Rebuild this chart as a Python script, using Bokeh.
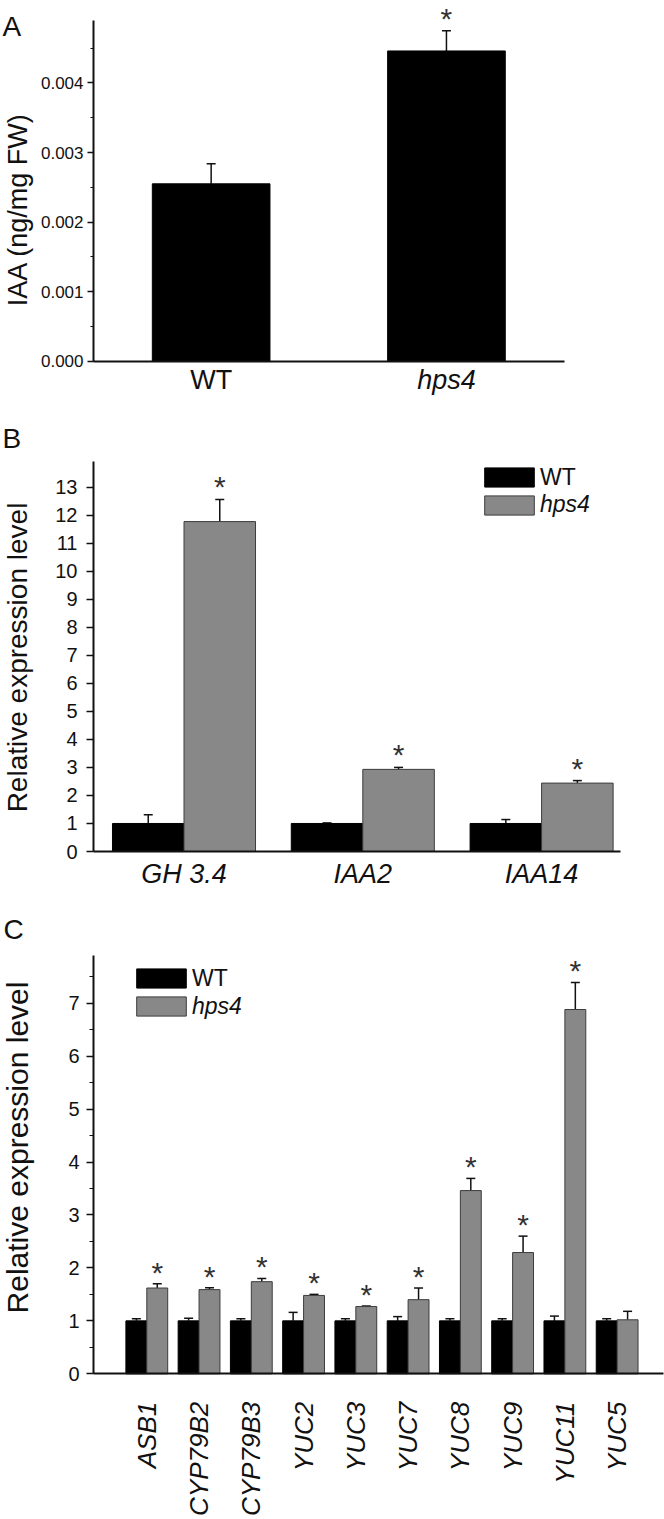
import math
from bokeh.plotting import figure
from bokeh.layouts import column
from bokeh.models import (ColumnDataSource, Whisker, TeeHead, LabelSet, Label, Legend,
                          LegendItem, SingleIntervalTicker, FixedTicker, NumeralTickFormatter,
                          Range1d)
from bokeh.core.properties import field, value
from bokeh.embed import file_html
from bokeh.resources import INLINE

# ---------------- data ----------------
# Panel A: IAA content
genotypes_A = ["WT", "hps4"]
styles_A = ["normal", "italic"]
iaa_A = [0.00255, 0.00446]
iaa_err_A = [0.00029, 0.00029]
sig_A = ["", "*"]

# Panel B: auxin responsive genes
genes_B = ["GH 3.4", "IAA2", "IAA14"]
wt_B = [1.0, 1.0, 1.0]
wt_err_B = [0.31, 0.02, 0.14]
hps4_B = [11.77, 2.93, 2.44]
hps4_err_B = [0.79, 0.07, 0.09]
sig_B = ["*", "*", "*"]

# Panel C: auxin biosynthesis genes
genes_C = ["ASB1", "CYP79B2", "CYP79B3", "YUC2", "YUC3", "YUC7", "YUC8", "YUC9", "YUC11", "YUC5"]
wt_C = [1.0, 1.0, 1.0, 1.0, 1.0, 1.0, 1.0, 1.0, 1.0, 1.0]
wt_err_C = [0.04, 0.05, 0.04, 0.16, 0.04, 0.08, 0.04, 0.04, 0.09, 0.04]
hps4_C = [1.62, 1.59, 1.74, 1.48, 1.27, 1.40, 3.46, 2.29, 6.88, 1.02]
hps4_err_C = [0.08, 0.035, 0.06, 0.02, 0.01, 0.22, 0.23, 0.31, 0.51, 0.16]
sig_C = ["*", "*", "*", "*", "*", "*", "*", "*", "*", ""]

ylabel_A = "IAA (ng/mg FW)"
ylabel_BC = "Relative expression level"

# ---------------- style / layout ----------------
FONT = "Liberation Sans"
BLACK = "#000000"
GRAY = "#888888"
EDGE = "#3c3c3c"
INK = "#111111"
W = 664
AXIS_PX = 93          # pixel position of every y axis line


def x_range_from(px0, ppu):
    """x range whose value 0 sits at pixel px0, ppu pixels per unit."""
    return Range1d(-px0 / ppu, (W - px0) / ppu)


def y_range_from(py0, ppu, height):
    """y range whose value 0 sits at pixel py0 (from top), ppu pixels per unit."""
    return Range1d(-(height - py0) / ppu, py0 / ppu)


def make_fig(height, xr, yr):
    p = figure(width=W, height=height, x_range=xr, y_range=yr,
               output_backend="svg", toolbar_location=None,
               min_border_left=0, min_border_right=0, min_border_top=0, min_border_bottom=0)
    p.frame_align = False
    p.xgrid.visible = False
    p.ygrid.visible = False
    p.outline_line_color = None
    p.background_fill_color = "white"
    p.border_fill_color = "white"
    return p


def style_axes(p, x_loc, xbounds, ybounds, tick_font, tick_out, minor_out, tick_standoff):
    xa = p.xaxis[0]
    ya = p.yaxis[0]
    for ax in (xa, ya):
        ax.axis_line_width = 2
        ax.axis_line_color = INK
        ax.major_tick_line_width = 1.5
        ax.minor_tick_line_width = 1.2
        ax.major_tick_line_color = INK
        ax.minor_tick_line_color = INK
        ax.major_tick_in = 0
        ax.minor_tick_in = 0
    xa.fixed_location = 0
    xa.bounds = xbounds
    xa.major_tick_out = 0
    xa.minor_tick_out = 0
    ya.fixed_location = x_loc
    ya.bounds = ybounds
    ya.major_tick_out = tick_out
    ya.minor_tick_out = minor_out
    ya.major_label_text_font = FONT
    ya.major_label_text_font_size = tick_font
    ya.major_label_text_color = INK
    ya.major_label_standoff = tick_standoff


def y_title(p, text, x, y, size):
    p.add_layout(Label(x=x, y=y, x_units="screen", y_units="screen", text=text,
                       angle=math.pi / 2, text_align="center", text_baseline="middle",
                       text_font=FONT, text_font_size=size, text_color=INK))


def whisk(src, base, lower, upper):
    return Whisker(source=src, base=base, lower=lower, upper=upper, dimension="height",
                   line_color=INK, line_width=1.5, lower_head=None,
                   upper_head=TeeHead(size=9, line_color=INK, line_width=1.5))


def stars(src, x, y, yoff):
    return LabelSet(source=src, x=x, y=y, text="sig", text_align="center",
                    text_baseline="alphabetic", y_offset=yoff, text_font=value(FONT),
                    text_font_size="30px", text_color="#333333")


def panel_letter(p, letter, x, y):
    p.add_layout(Label(x=x, y=y, x_units="screen", y_units="screen", text=letter,
                       text_font=FONT, text_font_size="28px", text_baseline="top",
                       text_align="left", text_color=INK))


def make_legends(p, r_wt, r_h, vx, vy_wt, vy_h):
    common = dict(padding=0, margin=0, spacing=0, border_line_alpha=0, background_fill_alpha=0,
                  glyph_width=62, glyph_height=24, label_standoff=0,
                  label_text_font=FONT, label_text_font_size="23px",
                  label_text_color=INK)
    l1 = Legend(items=[LegendItem(label="WT", renderers=[r_wt])], location=(vx, vy_wt),
                label_text_font_style="normal", **common)
    l2 = Legend(items=[LegendItem(label="hps4", renderers=[r_h])], location=(vx, vy_h),
                label_text_font_style="italic", **common)
    p.add_layout(l1)
    p.add_layout(l2)


# ---------------- Panel A ----------------
HA = 420
srcA = ColumnDataSource(dict(
    x=[i + 0.5 for i in range(len(genotypes_A))],
    top=iaa_A,
    up=[v + e for v, e in zip(iaa_A, iaa_err_A)],
    zero=[0.0] * len(iaa_A),
    label=genotypes_A,
    style=styles_A,
    sig=sig_A,
))
pA = make_fig(HA, x_range_from(AXIS_PX, 235.3), y_range_from(360.7, 69560.0, HA))
pA.vbar(x="x", top="top", width=0.5, source=srcA, fill_color=BLACK, line_color=BLACK)
pA.add_layout(whisk(srcA, "x", "top", "up"))
pA.add_layout(stars(srcA, "x", "up", 2))
pA.add_layout(LabelSet(source=srcA, x="x", y="zero", text="label", text_align="center",
                       text_baseline="top", y_offset=-4, text_font=value(FONT),
                       text_font_size="27px", text_font_style=field("style"),
                       text_color=INK))
style_axes(pA, 0.0, (0, 2), (0, 0.0049), "17px", 6, 3, 4)
pA.yaxis[0].ticker = SingleIntervalTicker(interval=0.001, num_minor_ticks=2)
pA.yaxis[0].formatter = NumeralTickFormatter(format="0.000")
pA.xaxis[0].ticker = FixedTicker(ticks=[])
y_title(pA, ylabel_A, 17.5, HA - 209, "27px")
panel_letter(pA, "A", 2, HA - 10)

# ---------------- Panel B ----------------
HB = 490
pxB0, ppuB = 183.5, 178.8
xB = list(range(len(genes_B)))
srcB = ColumnDataSource(dict(
    xw=[i - 0.2 for i in xB],
    xh=[i + 0.2 for i in xB],
    wt=wt_B,
    wt_up=[v + e for v, e in zip(wt_B, wt_err_B)],
    h=hps4_B,
    h_up=[v + e for v, e in zip(hps4_B, hps4_err_B)],
    sig=sig_B,
))
pB = make_fig(HB, x_range_from(pxB0, ppuB), y_range_from(431, 28.03, HB))
rBw = pB.vbar(x="xw", top="wt", width=0.4, source=srcB, fill_color=BLACK, line_color=BLACK)
rBh = pB.vbar(x="xh", top="h", width=0.4, source=srcB, fill_color=GRAY, line_color=EDGE)
pB.add_layout(whisk(srcB, "xw", "wt", "wt_up"))
pB.add_layout(whisk(srcB, "xh", "h", "h_up"))
pB.add_layout(stars(srcB, "xh", "h_up", 2))
yB_loc = (AXIS_PX - pxB0) / ppuB
style_axes(pB, yB_loc, (yB_loc, (619.5 - pxB0) / ppuB), (0, 13.9), "20px", 7, 0, 9)
pB.yaxis[0].ticker = SingleIntervalTicker(interval=1, num_minor_ticks=0)
pB.xaxis[0].ticker = FixedTicker(ticks=[float(i) for i in xB])
pB.xaxis[0].major_label_overrides = {float(i): g for i, g in zip(xB, genes_B)}
pB.xaxis[0].major_label_text_font = FONT
pB.xaxis[0].major_label_text_font_size = "27px"
pB.xaxis[0].major_label_text_font_style = "italic"
pB.xaxis[0].major_label_text_color = INK
pB.xaxis[0].major_label_standoff = 7
y_title(pB, ylabel_BC, 16.5, HB - 237, "28px")
make_legends(pB, rBw, rBh, 478, HB - 70.6, HB - 98.3)
panel_letter(pB, "B", 2, HB - 2)

# ---------------- Panel C ----------------
HC = 606
pxC0, ppuC = 146.3, 52.26
xC = list(range(len(genes_C)))
srcC = ColumnDataSource(dict(
    xw=[i - 0.2 for i in xC],
    xh=[i + 0.2 for i in xC],
    wt=wt_C,
    wt_up=[v + e for v, e in zip(wt_C, wt_err_C)],
    h=hps4_C,
    h_up=[v + e for v, e in zip(hps4_C, hps4_err_C)],
    sig=sig_C,
))
pC = make_fig(HC, x_range_from(pxC0, ppuC), y_range_from(463.3, 52.95, HC))
rCw = pC.vbar(x="xw", top="wt", width=0.4, source=srcC, fill_color=BLACK, line_color=BLACK)
rCh = pC.vbar(x="xh", top="h", width=0.4, source=srcC, fill_color=GRAY, line_color=EDGE)
pC.add_layout(whisk(srcC, "xw", "wt", "wt_up"))
pC.add_layout(whisk(srcC, "xh", "h", "h_up"))
pC.add_layout(stars(srcC, "xh", "h_up", 1))
yC_loc = (AXIS_PX - pxC0) / ppuC
style_axes(pC, yC_loc, (yC_loc, (663 - pxC0) / ppuC), (0, 7.9), "20px", 7, 4, 7)
pC.yaxis[0].ticker = SingleIntervalTicker(interval=1, num_minor_ticks=2)
pC.xaxis[0].ticker = FixedTicker(ticks=[float(i) for i in xC])
pC.xaxis[0].major_label_overrides = {float(i): g for i, g in zip(xC, genes_C)}
pC.xaxis[0].major_label_orientation = math.pi / 2
pC.xaxis[0].major_label_text_font = FONT
pC.xaxis[0].major_label_text_font_size = "26px"
pC.xaxis[0].major_label_text_font_style = "italic"
pC.xaxis[0].major_label_text_color = INK
pC.xaxis[0].major_label_standoff = 28
y_title(pC, ylabel_BC, 17, HC - 237, "30px")
make_legends(pC, rCw, rCh, 130, HC - 81.6, HC - 109.9)
panel_letter(pC, "C", 3, HC - 3)

layout = column(pA, pB, pC, spacing=0)
open("out.html", "w").write(file_html(layout, INLINE))
